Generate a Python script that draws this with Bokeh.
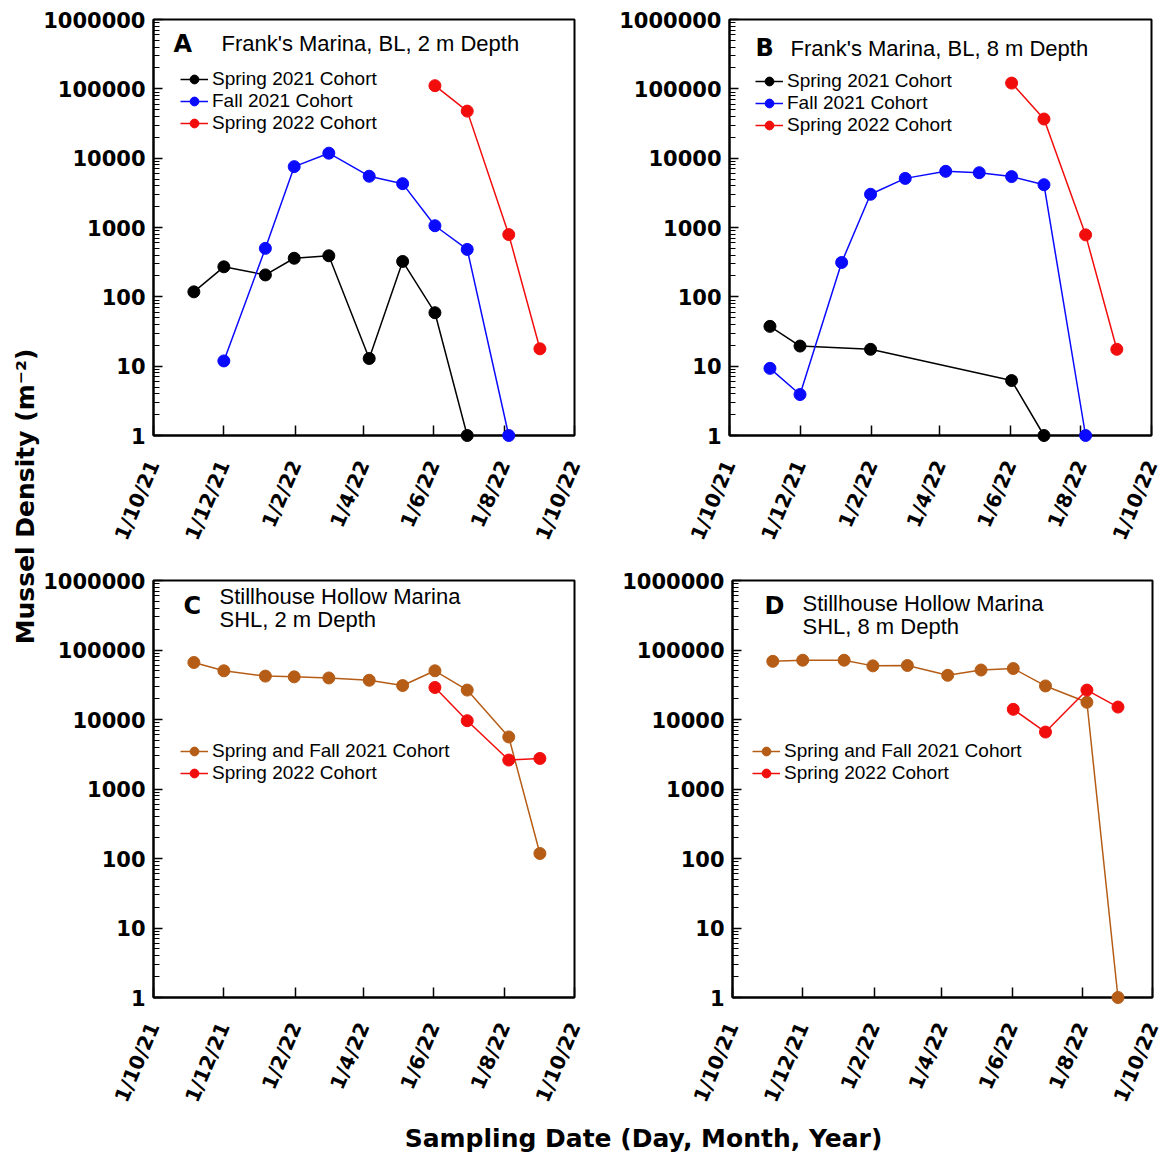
import math
import datetime as dt
from bokeh.plotting import figure
from bokeh.models import (Range1d, FixedTicker, DatetimeTickFormatter, NumeralTickFormatter,
                          Legend, LegendItem, Label, ColumnDataSource)
from bokeh.layouts import row, column
from bokeh.embed import file_html
from bokeh.resources import INLINE

# ------------------------------------------------------------------ data
x_tick_dates = ["2021-10-01", "2021-12-01", "2022-02-01", "2022-04-01",
                "2022-06-01", "2022-08-01", "2022-10-01"]
y_tick_values = [1, 10, 100, 1000, 10000, 100000, 1000000]

# Panel A - Frank's Marina, BL, 2 m
a_spring21_dates = ["2021-11-05", "2021-12-01", "2022-01-06", "2022-01-31", "2022-03-02",
                    "2022-04-06", "2022-05-05", "2022-06-02", "2022-06-30"]
a_spring21 = [118, 271, 207, 360, 391, 12.9, 324, 59, 1]
a_fall21_dates = ["2021-12-01", "2022-01-06", "2022-01-31", "2022-03-02", "2022-04-06",
                  "2022-05-05", "2022-06-02", "2022-06-30", "2022-08-05"]
a_fall21 = [11.9, 500, 7550, 11800, 5490, 4290, 1060, 483, 1]
a_spring22_dates = ["2022-06-02", "2022-06-30", "2022-08-05", "2022-09-01"]
a_spring22 = [111000, 47700, 790, 17.8]

# Panel B - Frank's Marina, BL, 8 m
b_spring21_dates = ["2021-11-05", "2021-12-01", "2022-01-31", "2022-06-02", "2022-06-30"]
b_spring21 = [37.5, 19.5, 17.5, 6.2, 1]
b_fall21_dates = ["2021-11-05", "2021-12-01", "2022-01-06", "2022-01-31", "2022-03-02",
                  "2022-04-06", "2022-05-05", "2022-06-02", "2022-06-30", "2022-08-05"]
b_fall21 = [9.3, 3.9, 313, 3015, 5110, 6460, 6170, 5420, 4140, 1]
b_spring22_dates = ["2022-06-02", "2022-06-30", "2022-08-05", "2022-09-01"]
b_spring22 = [121000, 36700, 783, 17.5]

# Panel C - Stillhouse Hollow Marina, SHL, 2 m
c_cohort21_dates = ["2021-11-05", "2021-12-01", "2022-01-06", "2022-01-31", "2022-03-02",
                    "2022-04-06", "2022-05-05", "2022-06-02", "2022-06-30", "2022-08-05",
                    "2022-09-01"]
c_cohort21 = [66100, 50200, 42100, 41100, 39600, 36700, 30800, 50200, 26500, 5610, 118]
c_spring22_dates = ["2022-06-02", "2022-06-30", "2022-08-05", "2022-09-01"]
c_spring22 = [28900, 9610, 2610, 2750]

# Panel D - Stillhouse Hollow Marina, SHL, 8 m
d_cohort21_dates = ["2021-11-05", "2021-12-01", "2022-01-06", "2022-01-31", "2022-03-02",
                    "2022-04-06", "2022-05-05", "2022-06-02", "2022-06-30", "2022-08-05",
                    "2022-09-01"]
d_cohort21 = [68700, 71300, 71300, 59100, 59800, 43200, 51500, 54100, 30400, 17700, 1]
d_spring22_dates = ["2022-06-02", "2022-06-30", "2022-08-05", "2022-09-01"]
d_spring22 = [14000, 6600, 26500, 15100]

BLACK = "#000000"
BLUE = "#0a0aff"
RED = "#f20d0d"
BROWN = "#b55d17"

BOLD_FONT = "DejaVu Sans"
REG_FONT = "Liberation Sans"

# ------------------------------------------------------------------ helpers
EPOCH = dt.datetime(1970, 1, 1)


def parse(s):
    return dt.datetime.strptime(s, "%Y-%m-%d")


def to_ms(d):
    return (d - EPOCH).total_seconds() * 1000.0


X_START = parse(x_tick_dates[0])
X_END = parse(x_tick_dates[-1])


def make_panel(width, height, bl, br, bt, bb, series, letter, letter_pos,
               title_lines, legend_xy):
    p = figure(width=width, height=height, x_axis_type="datetime", y_axis_type="log",
               x_range=Range1d(X_START, X_END), y_range=Range1d(1, 1e6),
               output_backend="svg", toolbar_location=None,
               min_border_left=bl, min_border_right=br,
               min_border_top=bt, min_border_bottom=bb,
               background_fill_color="white", border_fill_color="white")
    fw = width - bl - br
    fh = height - bt - bb

    def pos(dx, dy):
        x = to_ms(X_START) + dx / fw * (to_ms(X_END) - to_ms(X_START))
        y = 10 ** (6.0 * (fh - dy) / fh)
        return x, y

    items = []
    for name, dates, vals, color in series:
        src = ColumnDataSource(dict(x=[parse(d) for d in dates], y=vals))
        lr = p.line("x", "y", source=src, line_color=color, line_width=1.5)
        sr = p.scatter("x", "y", source=src, size=12, fill_color=color,
                       line_color=color, level="overlay")
        items.append(LegendItem(label=name, renderers=[lr, sr]))

    legend = Legend(items=items, location=legend_xy, padding=0, margin=0, spacing=0,
                    label_height=22, glyph_height=22, glyph_width=28, label_standoff=4,
                    border_line_color=None, background_fill_alpha=0,
                    label_text_font=REG_FONT, label_text_font_size="19px",
                    label_text_color="black")
    p.add_layout(legend)

    lx, ly = pos(*letter_pos)
    p.add_layout(Label(x=lx, y=ly, text=letter, text_font=BOLD_FONT,
                       text_font_style="bold", text_font_size="24px",
                       text_baseline="middle", text_align="left", text_color="black"))
    for (tx, ty, txt) in title_lines:
        x, y = pos(tx, ty)
        p.add_layout(Label(x=x, y=y, text=txt, text_font=REG_FONT,
                           text_font_size="22px", text_baseline="middle",
                           text_align="left", text_color="black"))

    # axes
    p.xgrid.visible = False
    p.ygrid.visible = False
    p.outline_line_color = "black"
    p.outline_line_width = 2

    xa = p.xaxis[0]
    xa.ticker = FixedTicker(ticks=[to_ms(parse(d)) for d in x_tick_dates])
    fmt = "%-d/%-m/%y"
    xa.formatter = DatetimeTickFormatter(microseconds=fmt, milliseconds=fmt, seconds=fmt,
                                         minsec=fmt, minutes=fmt, hourmin=fmt, hours=fmt,
                                         days=fmt, months=fmt, years=fmt)
    xa.major_tick_in = 10
    xa.major_tick_out = 0
    xa.minor_tick_in = 0
    xa.minor_tick_out = 0
    xa.major_tick_line_width = 1.5
    xa.axis_line_width = 2
    xa.major_label_orientation = math.radians(67)
    xa.major_label_standoff = 26
    xa.major_label_text_font = BOLD_FONT
    xa.major_label_text_font_style = "bold"
    xa.major_label_text_font_size = "20px"
    xa.major_label_text_color = "black"

    ya = p.yaxis[0]
    ya.ticker = FixedTicker(ticks=y_tick_values,
                            minor_ticks=[m * t for t in y_tick_values[:-1] for m in range(2, 10)])
    ya.formatter = NumeralTickFormatter(format="0")
    ya.major_tick_in = 9
    ya.major_tick_out = 0
    ya.minor_tick_in = 6
    ya.minor_tick_out = 0
    ya.major_tick_line_width = 1.5
    ya.minor_tick_line_width = 1.2
    ya.axis_line_width = 2
    ya.major_label_standoff = 8
    ya.major_label_text_font = BOLD_FONT
    ya.major_label_text_font_style = "bold"
    ya.major_label_text_font_size = "21px"
    ya.major_label_text_color = "black"
    return p


pA = make_panel(550, 560, 113, 16, 14, 125,
                [("Spring 2021 Cohort", a_spring21_dates, a_spring21, BLACK),
                 ("Fall 2021 Cohort", a_fall21_dates, a_fall21, BLUE),
                 ("Spring 2022 Cohort", a_spring22_dates, a_spring22, RED)],
                "A", (20, 25), [(68, 24, "Frank's Marina, BL, 2 m Depth")], (27, 301))

pB = make_panel(579, 560, 139, 18, 19, 120,
                [("Spring 2021 Cohort", b_spring21_dates, b_spring21, BLACK),
                 ("Fall 2021 Cohort", b_fall21_dates, b_fall21, BLUE),
                 ("Spring 2022 Cohort", b_spring22_dates, b_spring22, RED)],
                "B", (26, 29), [(61, 29, "Frank's Marina, BL, 8 m Depth")], (26, 299))

pC = make_panel(550, 558, 113, 16, 15, 121,
                [("Spring and Fall 2021 Cohort", c_cohort21_dates, c_cohort21, BROWN),
                 ("Spring 2022 Cohort", c_spring22_dates, c_spring22, RED)],
                "C", (30, 26), [(66, 16, "Stillhouse Hollow Marina"), (66, 39, "SHL, 2 m Depth")],
                (27, 213))

pD = make_panel(579, 558, 142, 17, 20, 117,
                [("Spring and Fall 2021 Cohort", d_cohort21_dates, d_cohort21, BROWN),
                 ("Spring 2022 Cohort", d_spring22_dates, d_spring22, RED)],
                "D", (32, 26), [(70, 23, "Stillhouse Hollow Marina"), (70, 46, "SHL, 8 m Depth")],
                (20, 213))

# shared axis titles
ylab = figure(width=40, height=1118, x_range=Range1d(0, 40), y_range=Range1d(0, 1118),
              output_backend="svg", toolbar_location=None, min_border=0,
              x_axis_location=None, y_axis_location=None, outline_line_color=None)
ylab.grid.visible = False
ylab.add_layout(Label(x=25, y=1118 - 496, text="Mussel Density (m\u207b\u00b2)",
                      angle=math.pi / 2, text_align="center", text_baseline="middle",
                      text_font=BOLD_FONT, text_font_style="bold", text_font_size="25px",
                      text_color="black"))

xlab = figure(width=1169, height=38, x_range=Range1d(0, 1169), y_range=Range1d(0, 38),
              output_backend="svg", toolbar_location=None, min_border=0,
              x_axis_location=None, y_axis_location=None, outline_line_color=None)
xlab.grid.visible = False
xlab.add_layout(Label(x=643, y=18, text="Sampling Date (Day, Month, Year)",
                      text_align="center", text_baseline="middle",
                      text_font=BOLD_FONT, text_font_style="bold", text_font_size="25px",
                      text_color="black"))

layout = column(row(ylab, column(row(pA, pB), row(pC, pD))), xlab)

open("out.html", "w").write(file_html(layout, INLINE))
